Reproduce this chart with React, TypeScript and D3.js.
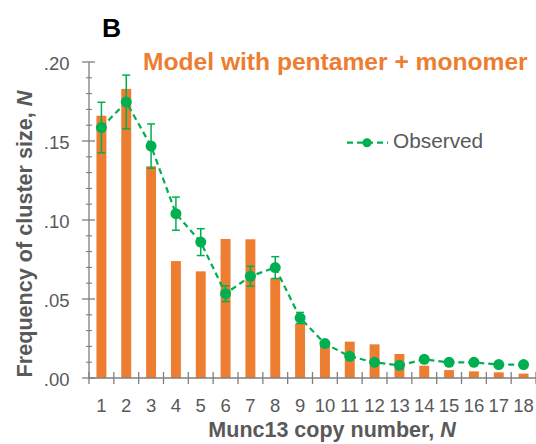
import React from "react";
import * as d3 from "d3";

const categories = ["1","2","3","4","5","6","7","8","9","10","11","12","13","14","15","16","17","18"];
const modelValues = [0.166, 0.183, 0.134, 0.074, 0.0675, 0.088, 0.0878, 0.063, 0.0344, 0.021, 0.023, 0.0213, 0.0152, 0.0078, 0.005, 0.0042, 0.0036, 0.0028];
const observedValues = [0.1585, 0.1747, 0.1468, 0.104, 0.086, 0.0534, 0.0644, 0.0699, 0.038, 0.0218, 0.0137, 0.0099, 0.008, 0.0118, 0.0099, 0.0099, 0.0085, 0.0085];
const observedErrors = [0.016, 0.017, 0.014, 0.0105, 0.0085, 0.005, 0.0063, 0.0069, 0.0035, 0.0015, 0.0015, 0.001, 0.001, 0.001, 0.001, 0.001, 0.001, 0.001];
const yMajorTicks = [0, 0.05, 0.1, 0.15, 0.2];
const yMinorTicks = [0.01,0.02,0.03,0.04,0.06,0.07,0.08,0.09,0.11,0.12,0.13,0.14,0.16,0.17,0.18,0.19];

const ORANGE = "#ED7D31";
const GREEN = "#00B050";
const GRAY = "#595959";
const AXIS = "#7F7F7F";
const FONT = "Arial, 'Liberation Sans', sans-serif";

export default function App() {
  const W = 536, H = 444;
  const x = d3.scaleBand<string>().domain(categories).range([89, 536]).padding(0);
  const y = d3.scaleLinear().domain([0, 0.2]).range([378, 62]);
  const bw = x.bandwidth();
  const cx = (c: string) => (x(c) as number) + bw / 2;
  const fmt = (v: number) => d3.format(".2f")(v).replace(/^0/, "");
  const line = d3.line<number>()
    .x((_, i) => cx(categories[i]))
    .y((d) => y(d));
  const boundaries = d3.range(categories.length + 1).map((i) => 89 + i * bw);

  return (
    <svg width={W} height={H} style={{ position: "absolute", left: 0, top: 0, background: "#fff" }} fontFamily={FONT}>
      <rect x={0} y={0} width={W} height={H} fill="#fff" />
      {/* panel letter */}
      <text x={102} y={37} fontSize={26.5} fontWeight="bold" fill="#000">B</text>
      {/* title */}
      <text x={143} y={70} fontSize={24.6} fontWeight="bold" fill={ORANGE}>Model with pentamer + monomer</text>

      {/* bars */}
      {modelValues.map((v, i) => (
        <rect key={"b" + i} x={(x(categories[i]) as number) + bw * 0.3} y={y(v)} width={bw * 0.4} height={y(0) - y(v)} fill={ORANGE} />
      ))}

      {/* y axis */}
      <line x1={89} x2={89} y1={y(0.2)} y2={y(0)} stroke={AXIS} strokeWidth={1.3} />
      {yMajorTicks.map((t) => (
        <g key={"ym" + t}>
          <line x1={82} x2={95} y1={y(t)} y2={y(t)} stroke={AXIS} strokeWidth={1.3} />
          <text x={69.5} y={y(t) + 1} dy="0.36em" textAnchor="end" fontSize={18.5} fill={GRAY}>{fmt(t)}</text>
        </g>
      ))}
      {yMinorTicks.map((t) => (
        <line key={"yn" + t} x1={86} x2={92} y1={y(t)} y2={y(t)} stroke={AXIS} strokeWidth={1.1} />
      ))}

      {/* x axis */}
      <line x1={89} x2={536} y1={y(0)} y2={y(0)} stroke={AXIS} strokeWidth={1.3} />
      {boundaries.map((b, i) => (
        <line key={"xt" + i} x1={b} x2={b} y1={372} y2={384} stroke={AXIS} strokeWidth={1.3} />
      ))}
      {categories.map((c) => (
        <text key={"xl" + c} x={cx(c)} y={411.7} textAnchor="middle" fontSize={18.5} fill={GRAY}>{c}</text>
      ))}

      {/* observed line */}
      <path d={line(observedValues) || ""} fill="none" stroke={GREEN} strokeWidth={2.2} strokeDasharray="6,4" />
      {observedValues.map((v, i) => {
        const e = observedErrors[i];
        const px = cx(categories[i]);
        return (
          <g key={"e" + i} stroke={GREEN} strokeWidth={1.5}>
            <line x1={px} x2={px} y1={y(v + e)} y2={y(v - e)} />
            <line x1={px - 4} x2={px + 4} y1={y(v + e)} y2={y(v + e)} />
            <line x1={px - 4} x2={px + 4} y1={y(v - e)} y2={y(v - e)} />
          </g>
        );
      })}
      {observedValues.map((v, i) => (
        <circle key={"p" + i} cx={cx(categories[i])} cy={y(v)} r={5.5} fill={GREEN} />
      ))}

      {/* legend */}
      <line x1={347} x2={388} y1={142.7} y2={142.7} stroke={GREEN} strokeWidth={2.2} strokeDasharray="6,4" />
      <circle cx={367} cy={142.7} r={4.5} fill={GREEN} />
      <text x={393} y={148} fontSize={20.8} fill={GRAY}>Observed</text>

      {/* axis titles */}
      <text transform="translate(31.5,234) rotate(-90)" textAnchor="middle" fontSize={21.6} fontWeight="bold" fill={GRAY}>
        Frequency of cluster size, <tspan fontStyle="italic">N</tspan>
      </text>
      <text x={332} y={437} textAnchor="middle" fontSize={21.5} fontWeight="bold" fill={GRAY}>
        Munc13 copy number, <tspan fontStyle="italic">N</tspan>
      </text>
    </svg>
  );
}
